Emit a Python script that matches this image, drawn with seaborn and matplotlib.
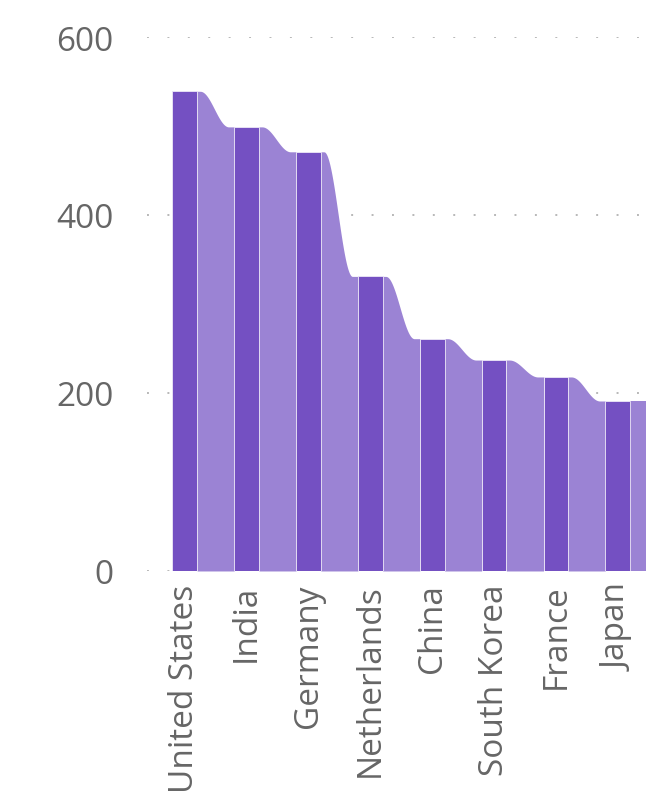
import numpy as np
import matplotlib
matplotlib.use("Agg")
import matplotlib.pyplot as plt
import seaborn as sns

# data
countries = ["United States", "India", "Germany", "Netherlands",
             "China", "South Korea", "France", "Japan"]
values = [539, 499, 471, 331, 261, 237, 218, 191]

dark = "#7450C2"
light = "#9B83D4"
text_grey = "#666666"

sns.set_style("white")
plt.rcParams["font.family"] = ["Open Sans", "DejaVu Sans"]

fig = plt.figure(figsize=(6.66, 8.12), dpi=100)
ax = fig.add_axes([0.2207, 0.2956, 0.7477, 0.6576])

# ribbons between bars: smooth step from one value to the next
half = 0.2
for i in range(len(values)):
    v0 = values[i]
    v1 = values[i + 1] if i + 1 < len(values) else values[i]
    xs = np.linspace(i + half, i + 1 - half, 80)
    t = np.clip((xs - (i + half + 0.05)) / 0.46, 0, 1)
    s = (1 - np.cos(np.pi * t)) / 2
    ax.fill_between(xs, 0, v0 + (v1 - v0) * s, color=light, lw=0, zorder=2)

sns.barplot(x=countries, y=values, color=dark, saturation=1, width=2 * half,
            edgecolor="#EDE8F7", linewidth=0.6, ax=ax, zorder=3)

# dotted gridlines
for y in [0, 200, 400, 600]:
    ax.axhline(y, color="#B8B8B8", lw=1.4, ls=(0, (1, 9.5)), zorder=1)

ax.set_xlim(-0.61, 7.44)
ax.set_ylim(0, 600)
ax.set_yticks([0, 200, 400, 600])
ax.set_xlabel("")
ax.set_ylabel("")
sns.despine(ax=ax, left=True, bottom=True)
ax.tick_params(axis="y", length=0, pad=24, labelsize=24, labelcolor=text_grey)
ax.tick_params(axis="x", length=0, pad=9, labelsize=24, labelcolor=text_grey,
               labelrotation=90)

fig.savefig("out.png", dpi=100)
